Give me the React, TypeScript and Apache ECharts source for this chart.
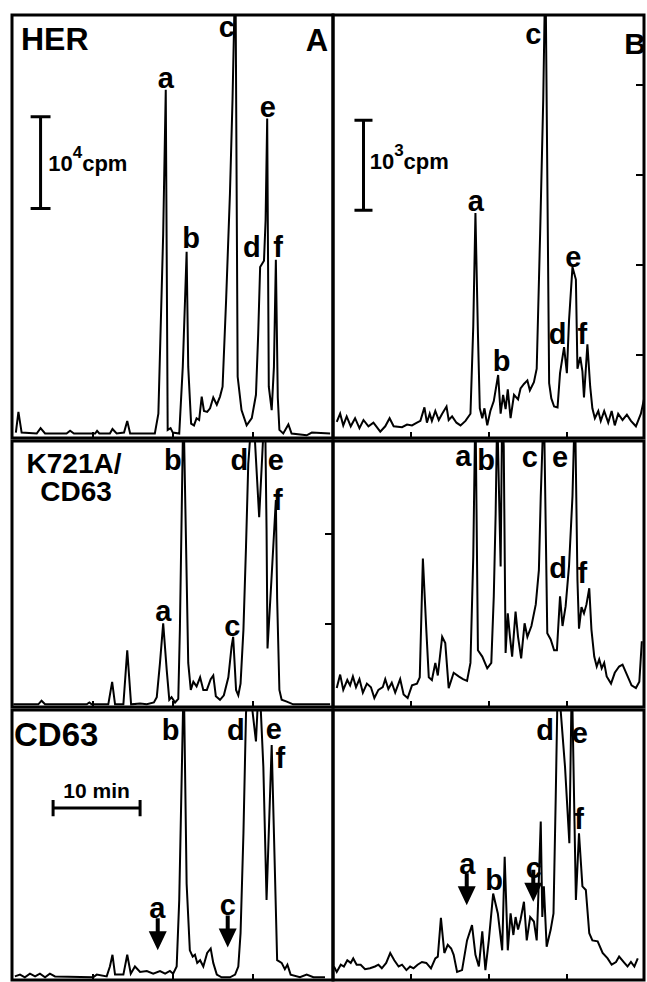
import React, { useEffect, useRef } from "react";
import * as echarts from "echarts";

// x: elution position (% of run, 0–100); y: radioactivity, 1 unit = scale bar (10^4 cpm in A, 10^3 cpm in B)
const herA: number[][] = [[1.2,0.06],[2.0,0.29],[3.0,0.06],[7.7,0.05],[8.9,0.11],[10.3,0.05],[17.0,0.05],[18.1,0.08],[19.3,0.05],[25.9,0.05],[26.5,0.08],[27.2,0.05],[30.5,0.05],[31.3,0.1],[32.6,0.05],[34.9,0.06],[35.9,0.19],[36.8,0.05],[39.9,0.05],[42.0,0.05],[44.5,0.05],[45.6,0.27],[47.1,2.27],[47.9,3.87],[48.5,0.09],[49.4,0.11],[50.1,0.06],[52.1,0.05],[53.2,0.79],[53.9,1.53],[54.4,2.07],[54.9,0.79],[55.8,0.16],[56.7,0.14],[57.5,0.22],[58.3,0.2],[59.1,0.46],[59.8,0.3],[60.8,0.29],[61.7,0.33],[62.7,0.45],[63.8,0.37],[64.8,0.46],[65.6,0.57],[66.7,1.53],[67.9,2.72],[68.7,3.76],[69.6,5.3],[70.3,0.68],[71.5,0.31],[73.1,0.14],[74.7,0.22],[76.0,0.48],[76.7,1.16],[77.3,1.9],[78.5,1.97],[79.0,2.42],[79.5,3.55],[80.0,0.57],[80.9,0.31],[81.6,0.79],[82.2,1.98],[82.8,0.45],[83.3,0.09],[84.5,0.05],[86.1,0.15],[87.1,0.05],[91.8,0.03],[93.4,0.06],[99.1,0.05]];
const herB: number[][] = [[1.2,0.18],[2.3,0.27],[3.3,0.14],[4.4,0.24],[5.7,0.13],[7.1,0.22],[8.5,0.11],[9.8,0.2],[11.4,0.13],[13.0,0.17],[15.2,0.07],[16.8,0.13],[18.2,0.22],[19.5,0.13],[22.2,0.12],[23.8,0.15],[25.4,0.14],[27.0,0.17],[28.1,0.19],[29.4,0.34],[30.2,0.17],[31.1,0.27],[31.8,0.19],[32.9,0.3],[34.0,0.2],[35.1,0.27],[36.5,0.35],[37.2,0.2],[38.3,0.24],[39.7,0.17],[41.0,0.14],[42.6,0.19],[44.2,0.27],[45.1,1.24],[45.8,2.5],[46.6,1.16],[47.2,0.33],[48.0,0.22],[48.7,0.33],[49.6,0.14],[50.6,0.3],[51.7,0.41],[53.1,0.7],[53.9,0.27],[54.7,0.48],[55.5,0.32],[56.2,0.54],[57.1,0.22],[58.2,0.48],[59.5,0.43],[60.3,0.55],[61.4,0.6],[62.5,0.64],[63.3,0.53],[64.6,0.62],[65.5,0.77],[66.6,2.27],[67.6,3.76],[68.3,5.3],[69.5,0.61],[70.2,0.44],[71.1,0.35],[72.2,0.34],[73.0,0.72],[74.3,1.01],[75.2,0.72],[75.9,1.31],[77.0,1.9],[78.1,1.76],[78.6,0.77],[79.5,0.9],[80.2,0.74],[80.7,0.45],[81.8,1.04],[82.7,0.57],[83.4,0.33],[84.2,0.22],[85.3,0.3],[86.1,0.19],[87.2,0.3],[88.5,0.17],[89.6,0.3],[90.6,0.14],[91.7,0.27],[93.1,0.2],[94.5,0.26],[95.8,0.19],[97.4,0.13],[99.0,0.27],[100,0.43]];
const k721A: number[][] = [[0.4,0.03],[8.2,0.03],[9.2,0.07],[10.3,0.03],[23.3,0.03],[24.1,0.05],[24.8,0.03],[30.0,0.03],[31.2,0.28],[32.1,0.03],[34.7,0.03],[35.9,0.63],[37.1,0.03],[39.9,0.04],[42.0,0.03],[44.2,0.05],[45.1,0.11],[46.1,0.49],[47.1,0.93],[48.2,0.41],[49.0,0.08],[49.7,0.11],[50.8,0.05],[51.8,0.09],[52.3,0.86],[53.4,3.4],[54.9,0.49],[55.7,0.19],[56.5,0.28],[57.5,0.23],[58.6,0.33],[59.6,0.19],[60.7,0.19],[61.9,0.31],[62.7,0.35],[63.5,0.12],[64.8,0.08],[66.0,0.13],[67.4,0.33],[68.4,0.67],[68.9,0.78],[69.8,0.19],[70.5,0.13],[71.2,0.26],[72.1,0.86],[72.9,1.78],[73.6,2.7],[75.0,3.4],[77.0,2.11],[78.8,3.4],[79.3,1.97],[79.6,0.65],[80.8,1.4],[82.2,2.3],[82.6,1.2],[83.3,0.19],[84.0,0.08],[85.6,0.06],[87.6,0.03],[99.1,0.03]];
const k721B: number[][] = [[1.2,0.21],[2.3,0.36],[3.3,0.19],[4.6,0.3],[5.5,0.24],[6.4,0.34],[7.4,0.22],[8.5,0.31],[9.6,0.16],[10.9,0.26],[12.2,0.22],[13.3,0.1],[14.6,0.19],[16.0,0.22],[16.8,0.31],[17.8,0.2],[18.9,0.27],[20.0,0.16],[21.6,0.31],[22.7,0.14],[24.0,0.1],[25.4,0.24],[27.0,0.26],[27.9,0.33],[28.9,1.65],[30.0,0.86],[30.8,0.33],[31.8,0.3],[32.9,0.49],[33.7,0.35],[35.1,0.78],[36.1,0.71],[37.2,0.21],[38.8,0.38],[40.4,0.34],[41.8,0.31],[43.1,0.29],[44.2,0.49],[45.1,1.67],[45.8,3.4],[46.6,0.63],[48.0,0.56],[49.6,0.43],[50.9,0.49],[51.7,1.23],[52.3,2.15],[52.8,3.3],[53.9,1.56],[54.4,3.3],[54.9,2.9],[55.5,0.6],[56.2,1.04],[56.9,0.78],[57.6,0.56],[58.7,1.06],[59.5,0.78],[60.5,0.54],[61.6,0.93],[62.5,0.78],[63.8,0.9],[65.2,1.14],[66.2,1.52],[66.8,2.34],[67.8,3.4],[68.9,0.82],[70.0,0.75],[71.1,0.63],[72.0,0.63],[73.0,1.23],[73.8,0.9],[74.8,1.12],[75.9,1.57],[77.0,2.34],[77.8,3.4],[78.6,1.41],[79.1,0.87],[79.9,1.11],[80.7,1.04],[81.5,1.14],[82.4,1.32],[83.1,0.86],[84.0,0.56],[84.8,0.45],[85.6,0.53],[86.4,0.43],[87.2,0.49],[88.0,0.34],[89.4,0.26],[90.6,0.38],[92.0,0.45],[93.1,0.47],[94.5,0.36],[96.0,0.24],[97.4,0.21],[98.5,0.28],[99.3,0.73]];
const cd63A: number[][] = [[0.9,0.04],[2.5,0.06],[4.0,0.03],[5.6,0.07],[7.2,0.04],[8.7,0.07],[10.3,0.03],[11.8,0.07],[13.4,0.04],[25.3,0.03],[26.4,0.06],[29.5,0.04],[30.5,0.15],[31.3,0.28],[32.1,0.06],[34.7,0.06],[35.9,0.28],[37.0,0.07],[38.3,0.15],[39.9,0.09],[42.0,0.1],[44.0,0.07],[46.1,0.1],[47.7,0.07],[49.2,0.1],[50.2,0.07],[51.3,0.15],[52.1,0.89],[53.5,3.4],[54.4,1.07],[55.4,0.33],[56.3,0.26],[57.0,0.28],[57.7,0.19],[58.6,0.22],[59.6,0.15],[60.8,0.3],[61.9,0.35],[62.7,0.19],[63.8,0.06],[65.3,0.03],[67.9,0.03],[69.5,0.06],[70.5,0.15],[71.2,0.52],[72.1,1.63],[72.9,2.96],[73.6,3.4],[76.0,2.65],[77.0,3.4],[78.3,2.37],[79.3,0.89],[80.9,2.61],[81.6,1.63],[82.6,0.22],[84.0,0.19],[85.0,0.12],[85.8,0.17],[86.8,0.06],[89.7,0.03],[91.8,0.06],[93.9,0.03],[97.5,0.03]];
const cd63B: number[][] = [[0.3,0.15],[1.2,0.09],[2.5,0.17],[3.5,0.15],[4.6,0.22],[5.7,0.19],[6.5,0.24],[7.6,0.17],[8.9,0.17],[10.3,0.12],[11.9,0.13],[13.5,0.15],[14.6,0.17],[15.7,0.13],[17.1,0.19],[18.4,0.3],[19.7,0.22],[21.1,0.15],[22.2,0.17],[23.6,0.11],[24.8,0.15],[25.9,0.13],[27.2,0.17],[28.6,0.2],[30.0,0.19],[31.5,0.13],[32.9,0.24],[33.7,0.26],[34.7,0.69],[35.8,0.3],[36.9,0.39],[38.0,0.35],[38.8,0.28],[39.9,0.09],[41.5,0.11],[43.1,0.44],[44.7,0.61],[45.8,0.28],[46.9,0.15],[48.0,0.54],[49.0,0.11],[50.1,0.44],[51.5,0.96],[53.0,0.74],[54.4,0.33],[55.2,1.37],[56.2,0.33],[57.1,0.74],[58.0,0.5],[58.7,0.7],[59.5,0.56],[60.3,0.67],[61.4,0.87],[62.3,0.44],[63.4,0.7],[64.6,0.65],[65.5,0.44],[65.9,0.81],[66.8,1.76],[67.3,0.7],[67.8,1.04],[68.7,0.37],[70.0,0.56],[70.9,0.74],[71.6,2.0],[72.3,3.4],[74.6,2.37],[76.0,1.52],[76.8,3.4],[78.1,0.89],[79.1,1.63],[80.2,1.04],[81.3,1.0],[82.4,0.52],[83.4,0.44],[85.1,0.43],[86.7,0.3],[88.3,0.24],[89.6,0.17],[91.0,0.2],[92.0,0.26],[93.7,0.19],[94.7,0.15],[95.8,0.2],[96.9,0.15],[98.0,0.24]];

// peak letters: [letter, x, y]
const herALabels: [string, number, number][] = [["a",47.9,4.0],["b",55.8,2.22],["c",66.9,4.57],["d",74.7,2.12],["e",79.7,3.68],["f",82.9,2.12]];
const herBLabels: [string, number, number][] = [["a",45.9,2.63],["b",54.2,0.86],["c",64.4,4.49],["d",72.2,1.16],["e",77.3,2.01],["f",80.2,1.16]];
const k721ALabels: [string, number, number][] = [["b",50.1,2.74],["d",70.8,2.75],["e",82.2,2.75],["f",82.8,2.3],["a",47.1,1.07],["c",68.6,0.9]];
const k721BLabels: [string, number, number][] = [["a",41.9,2.79],["b",49.2,2.74],["c",63.3,2.78],["e",73.0,2.78],["d",72.4,1.54],["f",80.2,1.49]];
const cd63ALabels: [string, number, number][] = [["b",49.4,2.78],["d",69.7,2.78],["e",81.6,2.79],["f",83.6,2.47],["a",45.3,0.8],["c",67.2,0.83]];
const cd63BLabels: [string, number, number][] = [["d",68.2,2.78],["e",79.4,2.74],["f",79.1,1.79],["a",43.2,1.29],["b",51.8,1.11],["c",64.6,1.24]];

// arrow tips marking missing peaks in CD63 panels: [x, y]
const cd63AArrows: number[][] = [[45.4,0.33],[67.2,0.36]];
const cd63BArrows: number[][] = [[43.0,0.83],[64.4,0.87]];

// scale bars
const cpmBarA = { x: 8.9, y0: 2.55, y1: 3.57, serif: 3.1 };
const cpmBarB = { x: 9.8, y0: 2.53, y1: 3.53, serif: 2.9 };
const timeBar = { y: 1.91, x0: 12.8, x1: 39.9, serif: 0.09 };

const xTickValues = [25, 50, 75];
const yTicksB = [0.92, 1.92, 2.92, 3.92];
const yTicksK721A = [0.93, 1.93];

const FONT = '"Liberation Sans", Arial, Helvetica, sans-serif';

const panels = [
  { left: 12, top: 15, width: 321, height: 423, trace: herA, labels: herALabels, yTicks: null as number[] | null },
  { left: 333, top: 15, width: 311, height: 423, trace: herB, labels: herBLabels, yTicks: yTicksB },
  { left: 12, top: 441, width: 321, height: 266, trace: k721A, labels: k721ALabels, yTicks: yTicksK721A },
  { left: 333, top: 441, width: 311, height: 266, trace: k721B, labels: k721BLabels, yTicks: null },
  { left: 12, top: 710, width: 321, height: 270, trace: cd63A, labels: cd63ALabels, yTicks: null },
  { left: 333, top: 710, width: 311, height: 270, trace: cd63B, labels: cd63BLabels, yTicks: null },
];

const ARROW = "path://M7,0 L11,0 L11,13 L18,13 L9,32 L0,13 L7,13 Z";

function vBar(b: { x: number; y0: number; y1: number; serif: number }) {
  return [
    [b.x - b.serif, b.y0], [b.x + b.serif, b.y0], [b.x, b.y0],
    [b.x, b.y1], [b.x - b.serif, b.y1], [b.x + b.serif, b.y1],
  ];
}
function hBar(b: { y: number; x0: number; x1: number; serif: number }) {
  return [
    [b.x0, b.y - b.serif], [b.x0, b.y + b.serif], [b.x0, b.y],
    [b.x1, b.y], [b.x1, b.y + b.serif], [b.x1, b.y - b.serif],
  ];
}

export default function App() {
  const ref = useRef<HTMLDivElement>(null);
  useEffect(() => {
    if (!ref.current) return;
    const chart = echarts.init(ref.current, undefined, { renderer: "svg" });
    const grid = panels.map((p) => ({
      left: p.left, top: p.top, width: p.width, height: p.height,
      show: true, borderColor: "#000", borderWidth: 3, backgroundColor: "transparent",
      containLabel: false,
    }));
    const xAxis = panels.map((_, i) => ({
      type: "value", gridIndex: i, min: 0, max: 100, interval: 25,
      axisLine: { show: false, onZero: false }, splitLine: { show: false }, axisLabel: { show: false },
      axisTick: { show: true, inside: true, length: 6, customValues: xTickValues, lineStyle: { color: "#000", width: 2 } },
    }));
    const yAxis = panels.map((p, i) => ({
      type: "value", gridIndex: i, min: 0, max: p.height / 90, position: "right",
      axisLine: { show: false, onZero: false }, splitLine: { show: false }, axisLabel: { show: false },
      axisTick: p.yTicks
        ? { show: true, inside: true, length: 8, customValues: p.yTicks, lineStyle: { color: "#000", width: 2 } }
        : { show: false },
    }));
    const series: any[] = [];
    panels.forEach((p, i) => {
      series.push({
        type: "line", xAxisIndex: i, yAxisIndex: i, data: p.trace, symbol: "none",
        clip: true, silent: true,
        lineStyle: { color: "#000", width: 2, join: "miter", miterLimit: 4 },
      });
      series.push({
        type: "scatter", xAxisIndex: i, yAxisIndex: i, symbolSize: 0, silent: true, z: 5,
        itemStyle: { opacity: 1 },
        data: p.labels.map(([n, x, y]) => ({ name: n, value: [x, y] })),
        label: {
          show: true, position: "inside", formatter: (d: any) => d.name,
          fontFamily: FONT, fontWeight: "bold", fontSize: 29, color: "#000", opacity: 1,
        },
      });
    });
    // scale bars
    series.push({ type: "line", xAxisIndex: 0, yAxisIndex: 0, data: vBar(cpmBarA), symbol: "none", silent: true, lineStyle: { color: "#000", width: 3 } });
    series.push({ type: "line", xAxisIndex: 1, yAxisIndex: 1, data: vBar(cpmBarB), symbol: "none", silent: true, lineStyle: { color: "#000", width: 3 } });
    series.push({ type: "line", xAxisIndex: 4, yAxisIndex: 4, data: hBar(timeBar), symbol: "none", silent: true, lineStyle: { color: "#000", width: 3 } });
    const rich = {
      n: { fontFamily: FONT, fontWeight: "bold", fontSize: 22, color: "#000", verticalAlign: "bottom", lineHeight: 30 },
      s: { fontFamily: FONT, fontWeight: "bold", fontSize: 17, color: "#000", verticalAlign: "top", lineHeight: 30 },
    };
    const scaleText = (xi: number, x: number, y: number, exp: string) => ({
      type: "scatter", xAxisIndex: xi, yAxisIndex: xi, symbolSize: 0, silent: true,
      itemStyle: { opacity: 1 },
      data: [{ name: exp, value: [x, y] }],
      label: {
        show: true, position: [0, 0], align: "left", verticalAlign: "middle", opacity: 1,
        formatter: `{n|10}{s|${exp}}{n|cpm}`, rich,
      },
    });
    series.push(scaleText(0, 11.3, 3.1, "4"));
    series.push(scaleText(1, 11.8, 3.12, "3"));
    series.push({
      type: "scatter", xAxisIndex: 4, yAxisIndex: 4, symbolSize: 0, silent: true,
      itemStyle: { opacity: 1 },
      data: [{ name: "10 min", value: [(timeBar.x0 + timeBar.x1) / 2, timeBar.y + 0.2] }],
      label: { show: true, position: "inside", formatter: "10 min", fontFamily: FONT, fontWeight: "bold", fontSize: 21, color: "#000", opacity: 1 },
    });
    // arrows
    [[4, cd63AArrows], [5, cd63BArrows]].forEach(([i, arr]: any) => {
      series.push({
        type: "scatter", xAxisIndex: i, yAxisIndex: i, silent: true, z: 6,
        symbol: ARROW, symbolSize: [18, 32], symbolOffset: [0, -16],
        itemStyle: { color: "#000", opacity: 1 }, data: arr,
      });
    });
    const t = (text: string, x: number, y: number, size: number, align = "left") => ({
      type: "text", x, y, z: 10,
      style: { text, fontFamily: FONT, fontWeight: "bold", fontSize: size, fill: "#000", align, verticalAlign: "middle" },
    });
    chart.setOption({
      animation: false,
      backgroundColor: "#fff",
      grid, xAxis, yAxis, series,
      graphic: [
        t("HER", 21, 39, 32),
        t("A", 317, 40, 31, "center"),
        t("B", 635, 43, 30, "center"),
        t("K721A/", 74, 463, 28, "center"),
        t("CD63", 76, 491, 28, "center"),
        t("CD63", 14, 734, 33),
      ],
    });
    return () => chart.dispose();
  }, []);
  return <div ref={ref} style={{ position: "absolute", left: 0, top: 0, width: 647, height: 982, background: "#fff" }} />;
}
